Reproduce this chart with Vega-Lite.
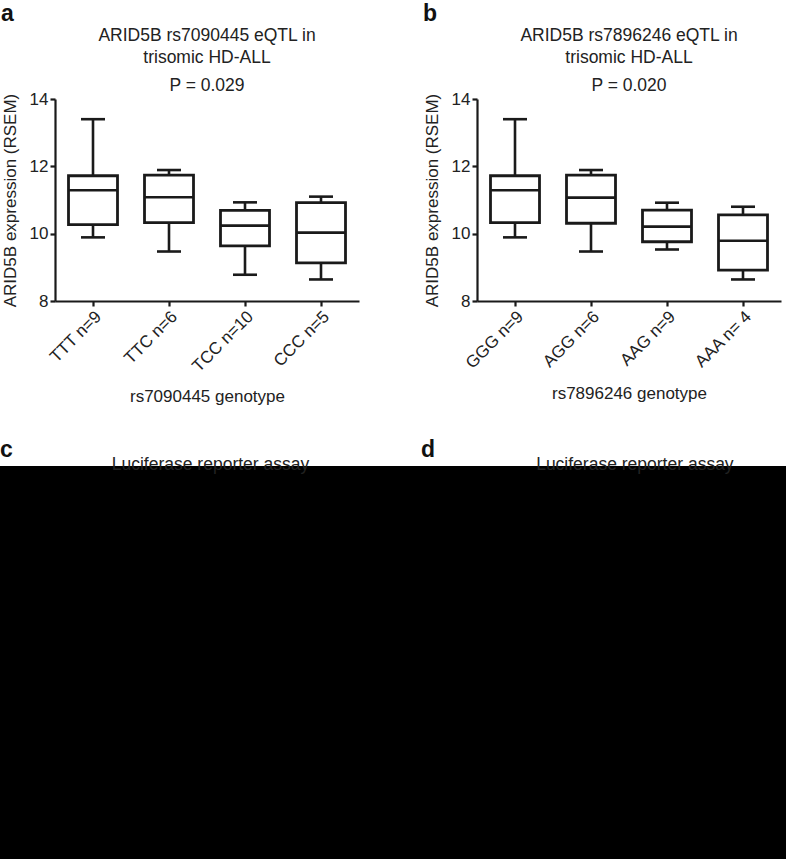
{
  "$schema": "https://vega.github.io/schema/vega-lite/v6.json",
  "padding": {"left": 0, "top": 3, "right": 0, "bottom": 0},
  "background": "white",
  "config": {
    "font": "Liberation Sans",
    "view": {"stroke": null},
    "axis": {"domainColor": "#1a1a1a", "domainWidth": 2.2, "tickColor": "#1a1a1a", "tickWidth": 2.2, "tickSize": 5, "labelFontSize": 17, "labelColor": "#222", "titleFontSize": 17, "titleFontWeight": "normal", "titleColor": "#222", "grid": false, "labelPadding": 2},
    "title": {"fontSize": 23, "fontWeight": "bold", "anchor": "start", "frame": "bounds", "color": "#111", "offset": 0}
  },
  "datasets": {
    "a": [
      {"genotype": "TTT n=9", "min": 9.89, "q1": 10.27, "median": 11.29, "q3": 11.72, "max": 13.40},
      {"genotype": "TTC n=6", "min": 9.47, "q1": 10.33, "median": 11.08, "q3": 11.74, "max": 11.89},
      {"genotype": "TCC n=10", "min": 8.78, "q1": 9.64, "median": 10.24, "q3": 10.69, "max": 10.93},
      {"genotype": "CCC n=5", "min": 8.64, "q1": 9.13, "median": 10.03, "q3": 10.92, "max": 11.10}
    ],
    "b": [
      {"genotype": "GGG n=9", "min": 9.89, "q1": 10.33, "median": 11.29, "q3": 11.72, "max": 13.40},
      {"genotype": "AGG n=6", "min": 9.47, "q1": 10.31, "median": 11.07, "q3": 11.74, "max": 11.89},
      {"genotype": "AAG n=9", "min": 9.53, "q1": 9.76, "median": 10.21, "q3": 10.70, "max": 10.92},
      {"genotype": "AAA n= 4", "min": 8.64, "q1": 8.92, "median": 9.79, "q3": 10.56, "max": 10.80}
    ],
    "heading": [{"label": "Luciferase reporter assay"}],
    "single": [{"k": 1}]
  },
  "spacing": 33,
  "vconcat": [
    {
      "spacing": 0,
      "hconcat": [
        {
          "width": 1, "height": 1,
          "data": {"name": "single"},
          "mark": {"type": "text", "text": ""}
        },
        {
          "spacing": 64,
          "hconcat": [
            {
              "width": 304, "height": 202,
              "title": {"text": "a", "dy": 3},
              "data": {"name": "a"},
              "encoding": {
                "x": {"field": "genotype", "type": "nominal",
                      "scale": {"domain": ["TTT n=9", "TTC n=6", "TCC n=10", "CCC n=5"], "paddingInner": 0, "paddingOuter": 0},
                      "axis": {"title": "rs7090445 genotype", "labelAngle": -45, "titlePadding": 14}}
              },
              "layer": [
                {"mark": {"type": "rule", "color": "#1a1a1a", "strokeWidth": 2.6},
                 "encoding": {
                   "y": {"field": "min", "type": "quantitative", "scale": {"domain": [8, 14], "nice": false, "zero": false},
                         "axis": {"title": "ARID5B expression (RSEM)", "values": [8, 10, 12, 14], "titlePadding": 10}},
                   "y2": {"field": "max"}}},
                {"mark": {"type": "bar", "fill": "white", "stroke": "#1a1a1a", "strokeWidth": 2.8, "size": 49},
                 "encoding": {"y": {"field": "q1", "type": "quantitative"}, "y2": {"field": "q3"}}},
                {"mark": {"type": "tick", "color": "#1a1a1a", "opacity": 1, "thickness": 2.6, "size": 49},
                 "encoding": {"y": {"field": "median", "type": "quantitative"}}},
                {"mark": {"type": "tick", "color": "#1a1a1a", "opacity": 1, "thickness": 2.6, "size": 24},
                 "encoding": {"y": {"field": "min", "type": "quantitative"}}},
                {"mark": {"type": "tick", "color": "#1a1a1a", "opacity": 1, "thickness": 2.6, "size": 24},
                 "encoding": {"y": {"field": "max", "type": "quantitative"}}},
                {"data": {"name": "single"},
                 "mark": {"type": "text", "text": "ARID5B rs7090445 eQTL in", "fontSize": 17.5, "fontWeight": "normal", "color": "#222", "align": "center", "baseline": "alphabetic"},
                 "encoding": {"x": {"datum": "TCC n=10", "type": "nominal", "bandPosition": 0}, "y": {"datum": 15.71, "type": "quantitative"}}},
                {"data": {"name": "single"},
                 "mark": {"type": "text", "text": "trisomic HD-ALL", "fontSize": 17.5, "fontWeight": "normal", "color": "#222", "align": "center", "baseline": "alphabetic"},
                 "encoding": {"x": {"datum": "TCC n=10", "type": "nominal", "bandPosition": 0}, "y": {"datum": 15.07, "type": "quantitative"}}},
                {"data": {"name": "single"},
                 "mark": {"type": "text", "text": "P = 0.029", "fontSize": 17.5, "fontWeight": "normal", "color": "#222", "align": "center", "baseline": "alphabetic"},
                 "encoding": {"x": {"datum": "TCC n=10", "type": "nominal", "bandPosition": 0}, "y": {"datum": 14.25, "type": "quantitative"}}}
              ]
            },
            {
              "width": 304, "height": 202,
              "title": {"text": "b", "dy": 3},
              "data": {"name": "b"},
              "encoding": {
                "x": {"field": "genotype", "type": "nominal",
                      "scale": {"domain": ["GGG n=9", "AGG n=6", "AAG n=9", "AAA n= 4"], "paddingInner": 0, "paddingOuter": 0},
                      "axis": {"title": "rs7896246 genotype", "labelAngle": -45, "titlePadding": 14}}
              },
              "layer": [
                {"mark": {"type": "rule", "color": "#1a1a1a", "strokeWidth": 2.6},
                 "encoding": {
                   "y": {"field": "min", "type": "quantitative", "scale": {"domain": [8, 14], "nice": false, "zero": false},
                         "axis": {"title": "ARID5B expression (RSEM)", "values": [8, 10, 12, 14], "titlePadding": 10}},
                   "y2": {"field": "max"}}},
                {"mark": {"type": "bar", "fill": "white", "stroke": "#1a1a1a", "strokeWidth": 2.8, "size": 49},
                 "encoding": {"y": {"field": "q1", "type": "quantitative"}, "y2": {"field": "q3"}}},
                {"mark": {"type": "tick", "color": "#1a1a1a", "opacity": 1, "thickness": 2.6, "size": 49},
                 "encoding": {"y": {"field": "median", "type": "quantitative"}}},
                {"mark": {"type": "tick", "color": "#1a1a1a", "opacity": 1, "thickness": 2.6, "size": 24},
                 "encoding": {"y": {"field": "min", "type": "quantitative"}}},
                {"mark": {"type": "tick", "color": "#1a1a1a", "opacity": 1, "thickness": 2.6, "size": 24},
                 "encoding": {"y": {"field": "max", "type": "quantitative"}}},
                {"data": {"name": "single"},
                 "mark": {"type": "text", "text": "ARID5B rs7896246 eQTL in", "fontSize": 17.5, "fontWeight": "normal", "color": "#222", "align": "center", "baseline": "alphabetic"},
                 "encoding": {"x": {"datum": "AAG n=9", "type": "nominal", "bandPosition": 0}, "y": {"datum": 15.71, "type": "quantitative"}}},
                {"data": {"name": "single"},
                 "mark": {"type": "text", "text": "trisomic HD-ALL", "fontSize": 17.5, "fontWeight": "normal", "color": "#222", "align": "center", "baseline": "alphabetic"},
                 "encoding": {"x": {"datum": "AAG n=9", "type": "nominal", "bandPosition": 0}, "y": {"datum": 15.07, "type": "quantitative"}}},
                {"data": {"name": "single"},
                 "mark": {"type": "text", "text": "P = 0.020", "fontSize": 17.5, "fontWeight": "normal", "color": "#222", "align": "center", "baseline": "alphabetic"},
                 "encoding": {"x": {"datum": "AAG n=9", "type": "nominal", "bandPosition": 0}, "y": {"datum": 14.25, "type": "quantitative"}}}
              ]
            }
          ]
        }
      ]
    },
    {
      "spacing": 0,
      "hconcat": [
        {
          "width": 421, "height": 393,
          "view": {"fill": "black", "stroke": null},
          "title": {"text": "c", "frame": "group", "offset": -6},
          "data": {"name": "heading"},
          "mark": {"type": "text", "fontSize": 17.5, "color": "#222", "align": "center", "baseline": "alphabetic"},
          "encoding": {
            "text": {"field": "label"},
            "x": {"datum": 0.5, "type": "quantitative", "scale": {"domain": [0, 1]}, "axis": null},
            "y": {"datum": 0.991, "type": "quantitative", "scale": {"domain": [0, 1]}, "axis": null}
          }
        },
        {
          "width": 365, "height": 393,
          "view": {"fill": "black", "stroke": null},
          "title": {"text": "d", "frame": "group", "offset": -6},
          "data": {"name": "heading"},
          "mark": {"type": "text", "fontSize": 17.5, "color": "#222", "align": "center", "baseline": "alphabetic"},
          "encoding": {
            "text": {"field": "label"},
            "x": {"datum": 0.586, "type": "quantitative", "scale": {"domain": [0, 1]}, "axis": null},
            "y": {"datum": 0.991, "type": "quantitative", "scale": {"domain": [0, 1]}, "axis": null}
          }
        }
      ]
    }
  ]
}
